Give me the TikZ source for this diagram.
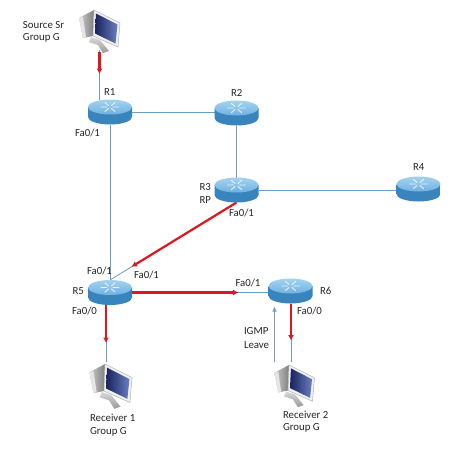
\documentclass[tikz,border=0pt]{standalone}
\usepackage{fontspec}
\setmainfont{Carlito}
\usetikzlibrary{arrows.meta,calc}
\definecolor{linkblue}{HTML}{6C9EC4}
\definecolor{flowred}{HTML}{DD1620}
\definecolor{rtrdark}{HTML}{3A84BE}
\definecolor{rtrmid}{HTML}{7ABBE6}
\definecolor{rtrtop}{HTML}{A4D2F0}
\definecolor{rtrtopb}{HTML}{6FB2E2}
\definecolor{navy}{HTML}{18225E}
\definecolor{navyl}{HTML}{6A7EBE}
\tikzset{
  rtrbox/.style={minimum width=44pt,minimum height=25pt,inner sep=0pt,outer sep=0pt},
  pcbox/.style={minimum width=2pt,minimum height=2pt,inner sep=0pt,outer sep=0pt},
  link/.style={draw=linkblue,line width=0.8pt},
  linkarrow/.style={link,-{Latex[length=5pt,width=4.5pt]}},
  flow/.style={draw=flowred,line width=2.2pt,-{Latex[length=5.5pt,width=6pt]}},
  lbl/.style={font=\fontsize{10.8}{12}\selectfont,text=black!85,anchor=west,inner sep=0pt,outer sep=0pt},
  pc/.pic={
    \shade[left color=black!20,right color=black!50] (-15,8) -- (0,0) -- (-1,26) -- (-11,28) -- cycle;
    \fill[black!10] (-15,8) -- (-11,7) -- (-8,27) -- (-11,28) -- cycle;
    \shade[top color=black!15,bottom color=black!40] (-3,27) -- (6,30) -- (15,41) -- (9,43) -- (4,35) -- (-5,32) -- cycle;
    \fill[black!6] (0,0) -- (26,13) -- (24,37) -- (-1,26) -- cycle;
    \draw[black!35,line width=0.4pt] (0,0) -- (26,13) -- (24,37) -- (-1,26) -- cycle;
    \shade[left color=navy,right color=navyl] (2,3.5) -- (23.5,14.5) -- (21.5,33.5) -- (1,23.5) -- cycle;
  }
}
\newcommand{\routerart}[1]{%
  \begin{scope}[shift={(#1.center)}]
    \shade[left color=rtrdark,middle color=rtrmid,right color=rtrdark]
      (-22,-5) -- (-22,5) arc[start angle=180,end angle=0,x radius=22,y radius=7.5]
      -- (22,-5) -- cycle;
    \shade[top color=rtrtop,bottom color=rtrtopb] (0,-5) ellipse[x radius=22,y radius=7.5];
    \draw[white,line width=0.9pt,line cap=round,opacity=0.8]
      (-9,-5) -- (-3,-5) (3,-5) -- (9,-5) (-5,-9.5) -- (-1.5,-6.5) (5,-9.5) -- (1.5,-6.5)
      (-5,-0.5) -- (-1.5,-3.5) (5,-0.5) -- (1.5,-3.5);
  \end{scope}}
\begin{document}
\begin{tikzpicture}[x=1pt,y=-1pt]
\useasboundingbox (0,0) rectangle (452,448);
\fill[white] (0,0) rectangle (452,448);
% routers (positions)
\node[rtrbox] (r1) at (110,112) {};
\node[rtrbox] (r2) at (236.5,113) {};
\node[rtrbox] (r3) at (236.5,190) {};
\node[rtrbox] (r4) at (418.5,189) {};
\node[rtrbox] (r5) at (110,292.5) {};
\node[rtrbox] (r6) at (290.5,291) {};
% hosts
\node[pcbox] (src) at (99.5,50) {};
\node[pcbox] (rx1) at (106,362) {};
\node[pcbox] (rx2) at (291,362) {};
\coordinate (igmpfoot) at (274.5,362);
% blue links
\draw[link] (src.center) -- (src.center |- r1.north);
\draw[link] (r1.east) -- (r1.east -| r2.west);
\draw[link] (r1.south) -- (r5.north);
\draw[link] (r2.south) -- (r3.north);
\draw[link] (r3.east) -- (r3.east -| r4.west);
\draw[link] (r3.south) -- (r5.north);
\draw[link] (r5.east) -- (r5.east -| r6.west);
\draw[link] (rx1.center) -- (rx1.center |- r5.south);
\draw[link] (rx2.center) -- (rx2.center |- r6.south);
\draw[linkarrow] (igmpfoot) -- ($(igmpfoot |- r6.south)+(0,3)$);
% red flows
\draw[flow] ($(src.center)+(0,2)$) -- ++(0,22);
\draw[flow] (r3.south) -- ($(r3.south)!0.83!(r5.north)$);
\draw[flow] (r5.east) -- ($(r5.east -| r6.west)!0.22!(r5.east)$);
\draw[flow] (rx1.center |- r5.south) -- ++(0,38);
\draw[flow] (rx2.center |- r6.south) -- ++(0,37);
% router art
\routerart{r1}\routerart{r2}\routerart{r3}\routerart{r4}\routerart{r5}\routerart{r6}
% computers
\pic at (94,10) {pc};
\pic[scale=1.04] at (105,364) {pc};
\pic[scale=0.98] at (289,365) {pc};
% labels
\node[lbl] (tsrc) at (23,25) {Source Sr};
\node[lbl] (tsrcg) at (23,38) {Group G};
\node[lbl] (tr1) at (104,92) {R1};
\node[lbl] (tf1) at (75,133) {Fa0/1};
\node[lbl] (tr2) at (231,93) {R2};
\node[lbl] (tr3) at (199.5,187) {R3};
\node[lbl] (trp) at (199.5,200) {RP};
\node[lbl] (tf3) at (229,213) {Fa0/1};
\node[lbl] (tr4) at (413,167) {R4};
\node[lbl] (tr5) at (72.5,291) {R5};
\node[lbl] (tf5a) at (87,271) {Fa0/1};
\node[lbl] (tf5b) at (134,275) {Fa0/1};
\node[lbl] (tf5c) at (72,311) {Fa0/0};
\node[lbl] (tr6) at (320,291) {R6};
\node[lbl] (tf6a) at (235.5,283) {Fa0/1};
\node[lbl] (tf6b) at (297,311) {Fa0/0};
\node[lbl] (tig) at (244,331) {IGMP};
\node[lbl] (tlv) at (244,345) {Leave};
\node[lbl] (trx1) at (90,418) {Receiver 1};
\node[lbl] (trx1g) at (90,432) {Group G};
\node[lbl] (trx2) at (283,415) {Receiver 2};
\node[lbl] (trx2g) at (283,428) {Group G};
\end{tikzpicture}
\end{document}
